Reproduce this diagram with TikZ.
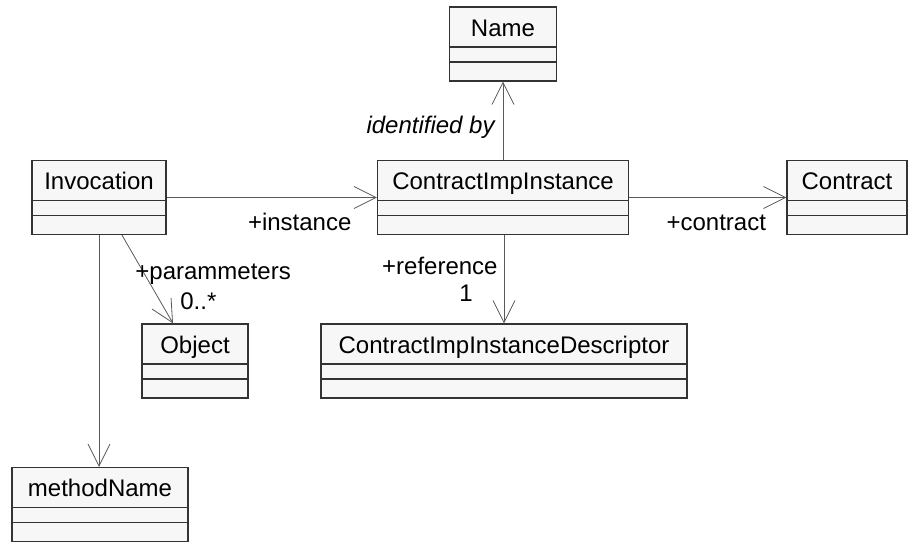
\documentclass[tikz,border=0pt]{standalone}
\usepackage{fontspec}
\setmainfont{Liberation Sans}
\usetikzlibrary{arrows.meta}

\begin{document}
\begin{tikzpicture}[
  x={(1pt,0pt)},
  y={(0pt,-1pt)},
  font=\fontsize{24}{28}\selectfont,
  lop/.style={draw=black!80, fill=black!3, line width=1.3pt, inner sep=0pt,
    text height=29pt, text depth=45pt, minimum width=#1,
    path picture={
      \draw[black!80, line width=1.3pt]
        ([yshift=-40pt]path picture bounding box.north west) -- ([yshift=-40pt]path picture bounding box.north east)
        ([yshift=-55pt]path picture bounding box.north west) -- ([yshift=-55pt]path picture bounding box.north east);
    }},
  lienket/.style={draw=black!65, line width=0.8pt, -{Straight Barb[length=22pt, width=22pt]}},
  nhan/.style={inner sep=0pt}
]
  \useasboundingbox (0,0) rectangle (908,542);

  % các lớp
  \node[lop=107] (Name) at (503,44) {Name};
  \node[lop=134] (Invocation) at (99,197.5) {Invocation};
  \node[lop=251] (CII) at (503,197.5) {ContractImpInstance};
  \node[lop=120] (Contract) at (847,197.5) {Contract};
  \node[lop=106] (Object) at (195,361) {Object};
  \node[lop=366] (CIID) at (504,361) {ContractImpInstanceDescriptor};
  \node[lop=176] (methodName) at (100,504.5) {methodName};

  % các liên kết
  \draw[lienket] (CII.north) -- (CII.north |- Name.south)
    node[nhan, pos=1, anchor=base east, xshift=-8pt, yshift=-52pt] {\itshape identified by};
  \draw[lienket] (Invocation.east) -- (CII.west)
    node[nhan, pos=1, anchor=base east, xshift=-25pt, yshift=-32.5pt] {+instance};
  \draw[lienket] (CII.east) -- (Contract.west)
    node[nhan, pos=1, anchor=base east, xshift=-20pt, yshift=-32.5pt] {+contract};
  \draw[lienket] (CII.south -| CIID.north) -- (CIID.north)
    node[nhan, pos=1, anchor=base east, xshift=-6pt, yshift=49pt] {+reference}
    node[nhan, pos=1, anchor=base east, xshift=-31pt, yshift=22pt] {1};
  \draw[lienket] ([xshift=23pt]Invocation.south) -- ([xshift=-22pt]Object.north)
    node[nhan, pos=1, anchor=base west, xshift=-38pt, yshift=44pt] {+parammeters}
    node[nhan, pos=1, anchor=base west, xshift=7pt, yshift=14pt] {0..*};
  \draw[lienket] (Invocation.south) -- (Invocation.south |- methodName.north);
\end{tikzpicture}
\end{document}
